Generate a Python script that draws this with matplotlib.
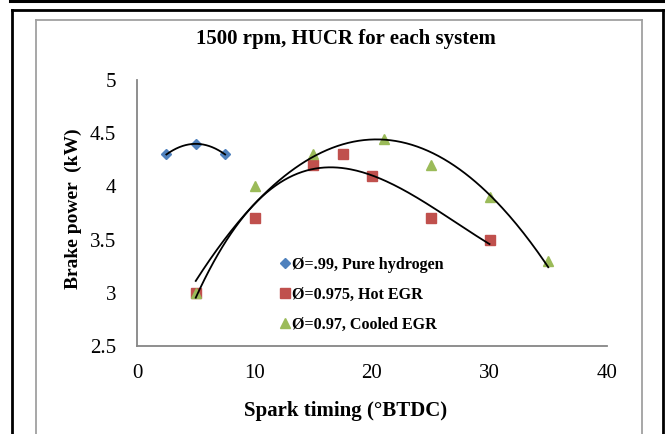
import numpy as np
import matplotlib
matplotlib.use("Agg")
import matplotlib.pyplot as plt
from matplotlib.lines import Line2D

plt.rcParams['font.family'] = ['Liberation Serif', 'DejaVu Serif']

# Data
h2_x = [2.5, 5, 7.5]
h2_y = [4.3, 4.4, 4.3]
hot_x = [5, 10, 15, 17.5, 20, 25, 30]
hot_y = [3.0, 3.7, 4.2, 4.3, 4.1, 3.7, 3.5]
cool_x = [5, 10, 15, 21, 25, 30, 35]
cool_y = [3.0, 4.0, 4.3, 4.45, 4.2, 3.9, 3.3]
labels = ["Ø=.99, Pure hydrogen", "Ø=0.975, Hot EGR", "Ø=0.97, Cooled EGR"]
title = "1500 rpm, HUCR for each system"
xlabel = "Spark timing (°BTDC)"
ylabel = "Brake power  (kW)"

fig = plt.figure(figsize=(6.65, 4.34), dpi=100)
ax = fig.add_axes([137/665, 1-346/434, (607-137)/665, (346-80)/434])

def trend(x, y, deg):
    c = np.polyfit(x, y, deg)
    xs = np.linspace(min(x), max(x), 200)
    return xs, np.polyval(c, xs)

for x, y, deg in [(h2_x, h2_y, 2), (hot_x, hot_y, 3), (cool_x, cool_y, 2)]:
    xs, ys = trend(x, y, deg)
    ax.plot(xs, ys, color='black', lw=1.3, zorder=3)

ax.plot(h2_x, h2_y, 'D', color='#4F81BD', ms=5.5, ls='none', label=labels[0], zorder=2)
ax.plot(hot_x, hot_y, 's', color='#C0504D', ms=7, ls='none', label=labels[1], zorder=2)
ax.plot(cool_x, cool_y, '^', color='#9BBB59', ms=7.5, ls='none', label=labels[2], zorder=2)

ax.set_xlim(0, 40)
ax.set_ylim(2.5, 5)
ax.set_xticks([0, 10, 20, 30, 40])
ax.set_yticks([2.5, 3, 3.5, 4, 4.5, 5])
ax.set_yticklabels(['2.5', '3', '3.5', '4', '4.5', '5'])
ax.tick_params(length=0, labelsize=15)
ax.tick_params(axis='y', pad=15)
ax.tick_params(axis='x', pad=13)
for s in ['top', 'right']:
    ax.spines[s].set_visible(False)
for s in ['left', 'bottom']:
    ax.spines[s].set_color('#868686')
    ax.spines[s].set_linewidth(1.3)

fig.text(346/665, 1-39/434, title, ha='center', va='center', fontsize=15, fontweight='bold')
fig.text(346/665, 1-411/434, xlabel, ha='center', va='center', fontsize=15, fontweight='bold')
fig.text(73/665, 1-209/434, ylabel, ha='center', va='center', fontsize=14, fontweight='bold', rotation=90)

leg = ax.legend(loc='upper left', bbox_to_anchor=((280-137)/470, (346-257)/266), frameon=False,
                prop={'size': 11.6, 'weight': 'bold'}, handlelength=0.6, handletextpad=0.15,
                labelspacing=0.87, borderaxespad=0, borderpad=0)

# Frames
W, H = 665, 434
def fline(x0, y0, x1, y1, color, lw):
    fig.add_artist(Line2D([x0/W, x1/W], [1-y0/H, 1-y1/H], color=color, lw=lw, transform=fig.transFigure, solid_capstyle='projecting'))

fline(10, 1, 665, 1, 'black', 2.2)
fline(11.5, 9.5, 663, 9.5, 'black', 2.0)
fline(11.5, 9.5, 11.5, 434, 'black', 2.0)
fline(663, 9.5, 663, 434, 'black', 2.0)
fline(36, 20, 641.5, 20, '#A0A0A0', 1.3)
fline(36, 20, 36, 434, '#A0A0A0', 1.3)
fline(641.5, 20, 641.5, 434, '#A0A0A0', 1.3)

fig.savefig('out.png', dpi=100)
